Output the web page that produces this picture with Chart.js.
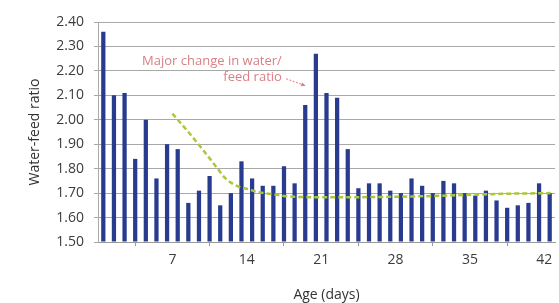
<!DOCTYPE html>
<html><head><meta charset="utf-8">
<script src="https://cdn.jsdelivr.net/npm/chart.js@4/dist/chart.umd.min.js"></script>
<style>html,body{margin:0;padding:0;background:#fff;}canvas{display:block}</style>
</head><body>
<canvas id="c" width="559" height="303"></canvas>
<script>
// ---- data ----
const ages = [0,1,2,3,4,5,6,7,8,9,10,11,12,13,14,15,16,17,18,19,20,21,22,23,24,25,26,27,28,29,30,31,32,33,34,35,36,37,38,39,40,41,42];
const waterFeedRatio = [2.36,2.10,2.11,1.84,2.00,1.76,1.90,1.88,1.66,1.71,1.77,1.65,1.70,1.83,1.76,1.73,1.73,1.81,1.74,2.06,2.27,2.11,2.09,1.88,1.72,1.74,1.74,1.71,1.70,1.76,1.73,1.70,1.75,1.74,1.70,1.69,1.71,1.67,1.64,1.65,1.66,1.74,1.70];
const trendDays = [7,8.5,10,11.35,12,13.2,14.2,15,17,18,22,28,33,38,42.6];
const trendValues = [2.025,1.95,1.87,1.795,1.76,1.727,1.715,1.705,1.692,1.686,1.683,1.685,1.69,1.697,1.70];
const xTickValues = [0,7,14,21,28,35,42];
const yTickValues = [1.5,1.6,1.7,1.8,1.9,2.0,2.1,2.2,2.3,2.4];
const noteLines = ['Major change in water/','feed ratio'];
const noteAnchor = {x: 17.3, y: [2.241, 2.172]};
const noteArrow = {from: [17.7, 2.168], to: [19.45, 2.14]};

const FONT = '"Open Sans", "Noto Sans", sans-serif';
const GRID = '#a8a8a8';
const noteColor = '#d97f86';

const notePlugin = {
  id: 'note',
  afterDatasetsDraw(chart) {
    const {ctx, scales: {x, y}} = chart;
    ctx.save();
    ctx.font = '13px ' + FONT;
    ctx.fillStyle = noteColor;
    ctx.textAlign = 'right';
    ctx.textBaseline = 'middle';
    noteLines.forEach((t, i) => ctx.fillText(t, x.getPixelForValue(noteAnchor.x), y.getPixelForValue(noteAnchor.y[i])));
    const x1 = x.getPixelForValue(noteArrow.from[0]), y1 = y.getPixelForValue(noteArrow.from[1]);
    const x2 = x.getPixelForValue(noteArrow.to[0]), y2 = y.getPixelForValue(noteArrow.to[1]);
    ctx.strokeStyle = noteColor;
    ctx.lineWidth = 1;
    ctx.setLineDash([2, 1.5]);
    ctx.beginPath(); ctx.moveTo(x1, y1); ctx.lineTo(x2, y2); ctx.stroke();
    ctx.setLineDash([]);
    const a = Math.atan2(y2 - y1, x2 - x1);
    ctx.beginPath();
    ctx.moveTo(x2 + 1, y2 + 0.3);
    ctx.lineTo(x2 - 4 * Math.cos(a - 0.5), y2 - 4 * Math.sin(a - 0.5));
    ctx.lineTo(x2 - 4 * Math.cos(a + 0.5), y2 - 4 * Math.sin(a + 0.5));
    ctx.closePath(); ctx.fill();
    ctx.restore();
  }
};

new Chart(document.getElementById('c'), {
  type: 'bar',
  data: {
    datasets: [
      {
        type: 'line',
        data: trendDays.map((d, i) => ({x: d, y: trendValues[i]})),
        borderColor: '#aac83a',
        borderWidth: 2.5,
        borderDash: [5, 3],
        pointRadius: 0,
        cubicInterpolationMode: 'monotone',
        fill: false,
        order: 0
      },
      {
        type: 'bar',
        data: ages.map((a, i) => ({x: a + 0.5, y: waterFeedRatio[i]})),
        backgroundColor: '#283b8f',
        borderWidth: 0,
        base: yTickValues[0],
        barPercentage: 0.4,
        categoryPercentage: 1,
        order: 1
      }
    ]
  },
  options: {
    responsive: false,
    animation: false,
    devicePixelRatio: 1,
    layout: {padding: {top: 22, right: 4, left: 0, bottom: 0}},
    plugins: {legend: {display: false}, tooltip: {enabled: false}},
    scales: {
      x: {
        type: 'linear',
        min: 0, max: ages.length,
        offset: false,
        afterBuildTicks: s => { s.ticks = xTickValues.map(v => ({value: v})); },
        afterFit: s => { s.height = 61; },
        ticks: {
          callback: v => v === 0 ? '' : String(v),
          color: '#3c3c3c',
          font: {family: FONT, size: 14},
          padding: 6,
          maxRotation: 0
        },
        grid: {display: true, drawOnChartArea: false, drawTicks: true, tickLength: 4, color: '#999'},
        border: {display: true, color: '#999'},
        title: {display: true, text: 'Age (days)', color: '#333', font: {family: FONT, size: 14}, padding: {top: 0, bottom: 0}}
      },
      y: {
        min: yTickValues[0], max: yTickValues[yTickValues.length - 1],
        afterBuildTicks: s => { s.ticks = yTickValues.map(v => ({value: v})); },
        afterFit: s => { s.width = 98; },
        ticks: {
          callback: v => Number(v).toFixed(2),
          color: '#3c3c3c',
          font: {family: FONT, size: 14},
          padding: 10
        },
        grid: {color: GRID, lineWidth: 1, tickLength: 4, drawTicks: true},
        border: {display: true, color: GRID},
        title: {display: true, text: 'Water-feed ratio', color: '#333', font: {family: FONT, size: 14}, padding: {top: 27, bottom: 0}}
      }
    }
  },
  plugins: [notePlugin]
});
</script>
</body></html>
